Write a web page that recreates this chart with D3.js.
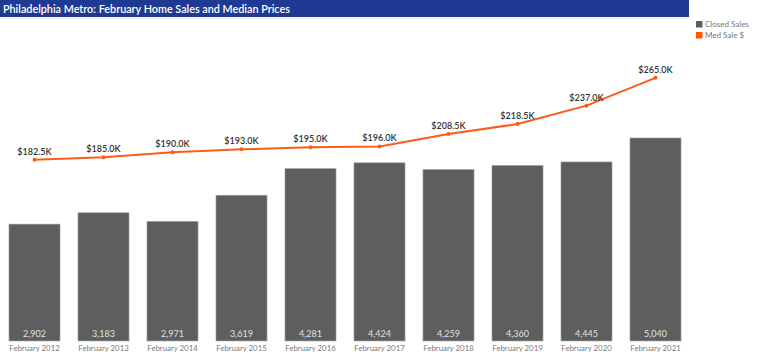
<!DOCTYPE html>
<html>
<meta charset="utf-8">
<script src="https://d3js.org/d3.v7.min.js"></script>
<style>
body { margin: 0; background: #fff; font-family: Lato, "Open Sans", sans-serif; }
</style>
<body>
<script>

var years = ["February 2012", "February 2013", "February 2014", "February 2015", "February 2016",
  "February 2017", "February 2018", "February 2019", "February 2020", "February 2021"];
var closedSales = [2902, 3183, 2971, 3619, 4281, 4424, 4259, 4360, 4445, 5040];
var medSale = [182.5, 185.0, 190.0, 193.0, 195.0, 196.0, 208.5, 218.5, 237.0, 265.0];
var legendNames = ["Closed Sales", "Med Sale $"];

var width = 768, height = 362;
var plot = ({left: 0, right: 690, top: 59, bottom: 341});

var svg = d3.select("body").append("svg")
  .attr("width", width)
  .attr("height", height);

// title bar
svg.append("rect")
  .attr("x", 0).attr("y", 0)
  .attr("width", 689).attr("height", 17)
  .attr("fill", "#1f3a93");
svg.append("line")
  .attr("x1", 0).attr("x2", 689).attr("y1", 18).attr("y2", 18)
  .attr("stroke", "#e4e4e4");
svg.append("text")
  .attr("x", 3).attr("y", 12.5)
  .attr("fill", "#fff")
  .attr("font-size", 10.8)
  .attr("font-weight", 600)
  .text("Philadelphia Metro: February Home Sales and Median Prices");

var x = d3.scaleBand()
  .domain(years)
  .range([plot.left, plot.right])
  .paddingInner(0.26)
  .paddingOuter(0.13);

var yBar = d3.scaleLinear().domain([0, 7000]).range([plot.bottom, plot.top]);
var yLine = d3.scaleLinear().domain([0, 284]).range([plot.bottom, plot.top]);

// bars
svg.selectAll("rect.bar")
  .data(closedSales)
  .enter().append("rect")
  .attr("class", "bar")
  .attr("x", function(d, i) { return x(years[i]); })
  .attr("y", function(d) { return yBar(d); })
  .attr("width", x.bandwidth())
  .attr("height", function(d) { return plot.bottom - yBar(d); })
  .attr("fill", "#5e5e5e")
  .attr("stroke", "#a8a8a8")
  .attr("stroke-width", 0.6);

svg.selectAll("text.barlabel")
  .data(closedSales)
  .enter().append("text")
  .attr("class", "barlabel")
  .attr("x", function(d, i) { return x(years[i]) + x.bandwidth() / 2; })
  .attr("y", plot.bottom - 4)
  .attr("text-anchor", "middle")
  .attr("fill", "#e0e0e0")
  .attr("font-size", 9)
  .text(function(d) { return d3.format(",")(d); });

// x axis
var xAx = d3.axisBottom(x).tickSize(0).tickPadding(4);
var xGroup = svg.append("g")
  .attr("transform", `translate(0,${plot.bottom})`)
  .call(xAx);
xGroup.select(".domain").remove();
xGroup.selectAll("text")
  .attr("fill", "#7a7a7a")
  .attr("font-size", 7.8)
  .attr("font-family", "Lato, sans-serif");

// line
var cx = function(i) { return x(years[i]) + x.bandwidth() / 2; };
var line = d3.line()
  .x(function(d, i) { return cx(i); })
  .y(function(d) { return yLine(d); });

svg.append("path")
  .datum(medSale)
  .attr("d", line)
  .attr("fill", "none")
  .attr("stroke", "#ff5a1a")
  .attr("stroke-width", 2);

svg.selectAll("circle.pt")
  .data(medSale)
  .enter().append("circle")
  .attr("class", "pt")
  .attr("cx", function(d, i) { return cx(i); })
  .attr("cy", function(d) { return yLine(d); })
  .attr("r", 2)
  .attr("fill", "#ff5a1a");

svg.selectAll("text.ptlabel")
  .data(medSale)
  .enter().append("text")
  .attr("class", "ptlabel")
  .attr("x", function(d, i) { return cx(i); })
  .attr("y", function(d) { return yLine(d) - 5; })
  .attr("text-anchor", "middle")
  .attr("fill", "#333")
  .attr("font-size", 9)
  .attr("font-weight", 600)
  .text(function(d) { return "$" + d3.format(".1f")(d) + "K"; });

// legend
var legColors = ["#5e5e5e", "#ff5a00"];
var leg = svg.selectAll("g.leg")
  .data(legendNames)
  .enter().append("g")
  .attr("class", "leg")
  .attr("transform", function(d, i) { return `translate(696,${21 + i * 11})`; });
leg.append("rect")
  .attr("width", 6.5).attr("height", 6.5)
  .attr("fill", function(d, i) { return legColors[i]; });
leg.append("text")
  .attr("x", 9).attr("y", 6.3)
  .attr("fill", "#777")
  .attr("font-size", 8)
  .text(function(d) { return d; });

</script>
</body>
</html>
